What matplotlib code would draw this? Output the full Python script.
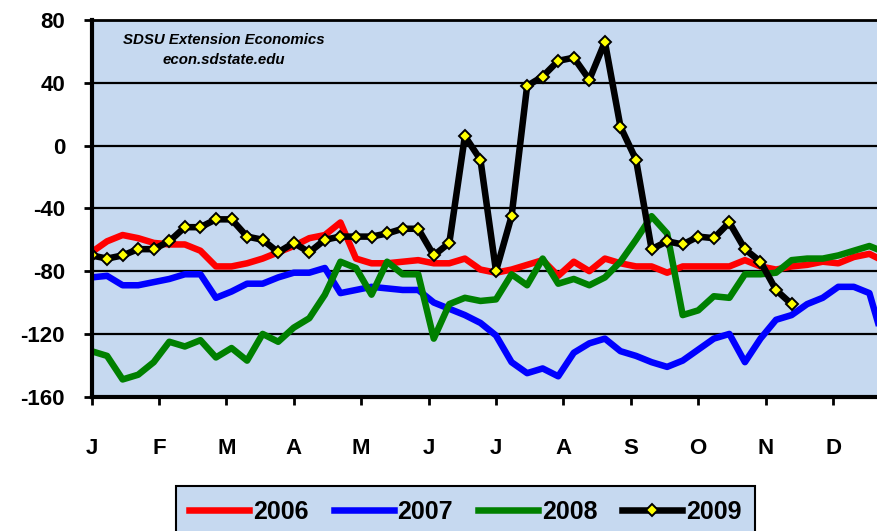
import numpy as np
import matplotlib
matplotlib.use("Agg")
import matplotlib.pyplot as plt

plt.rcParams["font.family"] = ["Liberation Sans", "DejaVu Sans"]
plt.rcParams["axes.unicode_minus"] = False

BG = "#C6D9F0"

# weekly index values by year (week 0 = first week of January)
months = ["J", "F", "M", "A", "M", "J", "J", "A", "S", "O", "N", "D"]
years = ["2006", "2007", "2008", "2009"]

y2006 = [-68, -61, -57, -59, -62, -63, -63, -67, -77, -77, -75, -72, -68, -64,
         -59, -57, -49, -72, -75, -75, -74, -73, -75, -75, -72, -79, -81, -79,
         -76, -73, -83, -74, -80, -72, -75, -77, -77, -81, -77, -77, -77, -77,
         -73, -77, -79, -77, -76, -74, -75, -71, -69, -74]
y2007 = [-84, -83, -89, -89, -87, -85, -82, -82, -97, -93, -88, -88, -84, -81,
         -81, -78, -94, -92, -90, -91, -92, -92, -100, -104, -108, -113, -121,
         -138, -145, -142, -147, -132, -126, -123, -131, -134, -138, -141, -137,
         -130, -123, -120, -138, -123, -111, -108, -101, -97, -90, -90, -94, -128]
y2008 = [-131, -134, -149, -146, -138, -125, -128, -124, -135, -129, -137, -120,
         -125, -116, -110, -95, -74, -78, -95, -74, -82, -82, -123, -101, -97,
         -99, -98, -82, -89, -72, -88, -85, -89, -84, -74, -60, -45, -56, -108,
         -105, -96, -97, -82, -82, -81, -73, -72, -72, -70, -67, -64, -68]
y2009 = [-70, -72, -70, -66, -66, -61, -52, -52, -47, -47, -58, -60, -68, -62,
         -68, -60, -58, -58, -58, -56, -53, -53, -70, -62, 6, -9, -80, -45, 38,
         44, 54, 56, 42, 66, 12, -9, -66, -61, -63, -58, -59, -49, -66, -74, -92,
         -101]

W, H = 878, 531
fig = plt.figure(figsize=(W / 100, H / 100), dpi=100)
# plot area runs a little past the right edge of the image
ax = fig.add_axes([91.5 / W, 134.3 / H, 809 / W, 376.7 / H])
ax.set_facecolor(BG)

lw = 4.7
ax.plot(np.arange(len(y2006)), y2006, color="#FF0000", lw=lw, label=years[0])
ax.plot(np.arange(len(y2007)), y2007, color="#0000FF", lw=lw, label=years[1])
ax.plot(np.arange(len(y2008)), y2008, color="#008000", lw=lw, label=years[2])
ax.plot(np.arange(len(y2009)), y2009, color="black", lw=lw, marker="D",
        ms=6.2, mfc="#FFFF00", mec="black", mew=1.4, label=years[3])

ax.set_xlim(0, 52)
ax.set_ylim(-160, 80)
ax.set_yticks(np.arange(-160, 81, 40))
ax.set_xticks(np.arange(12) * 52 / 12)
ax.set_xticklabels(months)
ax.yaxis.grid(True, color="black", lw=1.6)
ax.set_axisbelow(True)

ax.tick_params(axis="x", direction="out", length=6, width=2, pad=24, labelsize=16)
ax.tick_params(axis="y", direction="out", length=6, width=2, pad=13, labelsize=16)
for t in ax.get_xticklabels() + ax.get_yticklabels():
    t.set_fontweight("bold")

ax.spines["right"].set_visible(False)
ax.spines["left"].set_linewidth(3)
ax.spines["bottom"].set_linewidth(3)
ax.spines["top"].set_linewidth(2)

fig.text(224 / W, 1 - 40 / H, "SDSU Extension Economics", ha="center", va="center",
         fontsize=10.8, fontweight="bold", fontstyle="italic")
fig.text(224 / W, 1 - 60 / H, "econ.sdstate.edu", ha="center", va="center",
         fontsize=10.8, fontweight="bold", fontstyle="italic")

leg = fig.legend(loc="upper center", bbox_to_anchor=(465.5 / W, 1 - 486 / H),
                 ncol=4, frameon=True, fancybox=False, facecolor=BG,
                 edgecolor="black", framealpha=1, handlelength=2.4,
                 handletextpad=0.15, columnspacing=1.0, borderpad=0.55,
                 borderaxespad=0, prop={"weight": "bold", "size": 18})
leg.get_frame().set_linewidth(1.5)

fig.savefig("out.png", dpi=100)
